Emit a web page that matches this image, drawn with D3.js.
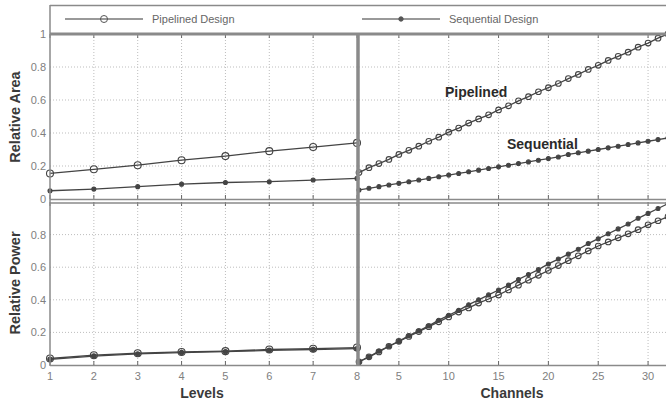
<!DOCTYPE html>
<html>
<head>
<meta charset="utf-8">
<script src="https://cdn.jsdelivr.net/npm/d3@7"></script>
<style>
  body { margin: 0; background: #fff; }
  text { font-family: "Liberation Sans", Arial, sans-serif; }
</style>
</head>
<body>
<script>
var CH = {};     // chart scope

/* DATA */
CH.levels = [1, 2, 3, 4, 5, 6, 7, 8];
CH.channels = [1, 2, 3, 4, 5, 6, 7, 8, 9, 10, 11, 12, 13, 14, 15, 16,
    17, 18, 19, 20, 21, 22, 23, 24, 25, 26, 27, 28, 29, 30, 31, 32];

// relative area vs levels
CH.areaPipeLevels = [0.155, 0.18, 0.205, 0.235, 0.26, 0.29, 0.315, 0.34];
CH.areaSeqLevels  = [0.05, 0.06, 0.075, 0.09, 0.1, 0.105, 0.115, 0.125];

// relative area vs channels
CH.areaPipeChan = [0.16, 0.19, 0.215, 0.24, 0.27, 0.295, 0.32, 0.35, 0.375, 0.405,
    0.43, 0.46, 0.485, 0.51, 0.54, 0.565, 0.595, 0.62, 0.65, 0.675, 0.7, 0.73,
    0.755, 0.785, 0.81, 0.84, 0.865, 0.89, 0.92, 0.945, 0.975, 1.0];
CH.areaSeqChan = [0.055, 0.065, 0.075, 0.085, 0.095, 0.105, 0.115, 0.125, 0.135, 0.145,
    0.155, 0.165, 0.175, 0.185, 0.195, 0.205, 0.215, 0.225, 0.235, 0.245, 0.255,
    0.27, 0.28, 0.29, 0.3, 0.31, 0.32, 0.33, 0.34, 0.35, 0.36, 0.37];

// relative power vs levels
CH.powPipeLevels = [0.04, 0.06, 0.072, 0.08, 0.085, 0.095, 0.1, 0.107];
CH.powSeqLevels  = [0.035, 0.055, 0.068, 0.076, 0.082, 0.09, 0.095, 0.1];

// relative power vs channels
CH.powPipeChan = [0.02, 0.05, 0.08, 0.115, 0.145, 0.175, 0.205, 0.235, 0.265, 0.295,
    0.325, 0.35, 0.38, 0.405, 0.43, 0.46, 0.49, 0.52, 0.55, 0.58, 0.61, 0.64,
    0.67, 0.7, 0.73, 0.755, 0.78, 0.805, 0.83, 0.86, 0.885, 0.91];
CH.powSeqChan = [0.02, 0.05, 0.085, 0.115, 0.145, 0.18, 0.21, 0.24, 0.275, 0.305,
    0.335, 0.37, 0.4, 0.43, 0.46, 0.49, 0.525, 0.555, 0.585, 0.62, 0.65, 0.68,
    0.71, 0.745, 0.775, 0.805, 0.835, 0.865, 0.9, 0.93, 0.96, 0.99];

CH.yTicks = [0, 0.2, 0.4, 0.6, 0.8, 1];
CH.yTickLabels = ["0", "0.2", "0.4", "0.6", "0.8", "1"];
CH.chanTicks = [5, 10, 15, 20, 25, 30];

CH.legend = ["Pipelined Design", "Sequential Design"];

/* SETUP */
CH.svg = d3.select("body").append("svg")
    .attr("width", 666)
    .attr("height", 407);

CH.lineClr = "#444";
CH.frameClr = "#8a8a8a";
CH.gridClr = "#bdbdbd";
CH.tickClr = "#808080";

// scales
CH.xL = d3.scaleLinear().domain([1, 8]).range([50, 357]);
CH.xR = d3.scaleLinear().domain([1, 32]).range([359, 668]);
CH.yT = d3.scaleLinear().domain([0, 1]).range([199, 34]);
CH.yB = d3.scaleLinear().domain([0, 1]).range([365, 202]);

/* grid lines (dotted) */
CH.grid = function(x, xticks, y, yticks) {
    var g = CH.svg.append("g")
        .attr("stroke", CH.gridClr)
        .attr("stroke-dasharray", "1,2")
        .attr("stroke-width", 1);
    g.selectAll(".gx").data(xticks).enter().append("line")
        .attr("x1", function(d) { return x(d); })
        .attr("x2", function(d) { return x(d); })
        .attr("y1", y.range()[1])
        .attr("y2", y.range()[0]);
    g.selectAll(".gy").data(yticks).enter().append("line")
        .attr("x1", x.range()[0])
        .attr("x2", Math.min(x.range()[1], 666))
        .attr("y1", function(d) { return y(d); })
        .attr("y2", function(d) { return y(d); });
};

CH.grid(CH.xL, CH.levels.slice(1, 7), CH.yT, [0.2, 0.4, 0.6, 0.8]);
CH.grid(CH.xR, CH.chanTicks, CH.yT, [0.2, 0.4, 0.6, 0.8]);
CH.grid(CH.xL, CH.levels.slice(1, 7), CH.yB, [0.2, 0.4, 0.6, 0.8]);
CH.grid(CH.xR, CH.chanTicks, CH.yB, [0.2, 0.4, 0.6, 0.8]);

/* small tick marks along top and bottom of each panel */
CH.ticks = function(x, xticks, y) {
    var g = CH.svg.append("g")
        .attr("stroke", "#666")
        .attr("stroke-width", 1);
    g.selectAll("line.b").data(xticks).enter().append("line")
        .attr("x1", function(d) { return x(d); })
        .attr("x2", function(d) { return x(d); })
        .attr("y1", y(0))
        .attr("y2", y(0) - 4);
    g.selectAll("line.t").data(xticks).enter().append("line")
        .attr("x1", function(d) { return x(d); })
        .attr("x2", function(d) { return x(d); })
        .attr("y1", y(1))
        .attr("y2", y(1) + 4);
};
CH.ticks(CH.xL, CH.levels, CH.yT);
CH.ticks(CH.xR, CH.chanTicks, CH.yT);
CH.ticks(CH.xL, CH.levels, CH.yB);
CH.ticks(CH.xR, CH.chanTicks, CH.yB);

/* series: line + markers */
CH.series = function(x, xs, y, ys, mark, r) {
    var pts = xs.map(function(d, i) { return [d, ys[i]]; });
    var line = d3.line()
        .x(function(d) { return x(d[0]); })
        .y(function(d) { return y(d[1]); });
    CH.svg.append("path")
        .datum(pts)
        .attr("d", line)
        .attr("fill", "none")
        .attr("stroke", CH.lineClr)
        .attr("stroke-width", 1.3);
    CH.svg.append("g").selectAll("circle")
        .data(pts)
        .enter()
        .append("circle")
        .attr("cx", function(d) { return x(d[0]); })
        .attr("cy", function(d) { return y(d[1]); })
        .attr("r", r)
        .attr("fill", mark == "o" ? "none" : CH.lineClr)
        .attr("stroke", CH.lineClr)
        .attr("stroke-width", 1.1);
};

CH.series(CH.xL, CH.levels, CH.yT, CH.areaPipeLevels, "o", 3.5);
CH.series(CH.xL, CH.levels, CH.yT, CH.areaSeqLevels, "*", 2);
CH.series(CH.xR, CH.channels, CH.yT, CH.areaPipeChan, "o", 2.8);
CH.series(CH.xR, CH.channels, CH.yT, CH.areaSeqChan, "*", 2);
CH.series(CH.xL, CH.levels, CH.yB, CH.powPipeLevels, "o", 3.5);
CH.series(CH.xL, CH.levels, CH.yB, CH.powSeqLevels, "*", 2.2);
CH.series(CH.xR, CH.channels, CH.yB, CH.powPipeChan, "o", 2.8);
CH.series(CH.xR, CH.channels, CH.yB, CH.powSeqChan, "*", 2);

/* frame */
CH.frame = CH.svg.append("g").attr("stroke", CH.frameClr).attr("fill", "none");
CH.frame.append("line").attr("x1", 50).attr("x2", 666).attr("y1", 5.5).attr("y2", 5.5)
    .attr("stroke-width", 1.5);
CH.frame.append("line").attr("x1", 50).attr("x2", 666).attr("y1", 34).attr("y2", 34)
    .attr("stroke-width", 3);
CH.frame.append("line").attr("x1", 50).attr("x2", 666).attr("y1", CH.yT(0) + 0.5).attr("y2", CH.yT(0) + 0.5)
    .attr("stroke-width", 1.5);
CH.frame.append("line").attr("x1", 50).attr("x2", 666).attr("y1", CH.yB(1) + 1).attr("y2", CH.yB(1) + 1)
    .attr("stroke-width", 1.5);
CH.frame.append("line").attr("x1", 50).attr("x2", 666).attr("y1", CH.yB(0) + 0.5).attr("y2", CH.yB(0) + 0.5)
    .attr("stroke-width", 1.5);
CH.frame.append("line").attr("x1", 50).attr("x2", 50).attr("y1", 5).attr("y2", 366)
    .attr("stroke-width", 1.5);
CH.frame.append("line").attr("x1", 358).attr("x2", 358).attr("y1", 34).attr("y2", 366)
    .attr("stroke-width", 3.5);

/* y tick labels */
CH.yLabels = function(y, idx) {
    CH.svg.append("g").selectAll("text")
        .data(idx)
        .enter()
        .append("text")
        .attr("x", 46)
        .attr("y", function(i) { return y(CH.yTicks[i]) + 4; })
        .attr("text-anchor", "end")
        .attr("font-size", "11px")
        .attr("fill", CH.tickClr)
        .text(function(i) { return CH.yTickLabels[i]; });
};
CH.yLabels(CH.yT, [0, 1, 2, 3, 4, 5]);
CH.yLabels(CH.yB, [0, 1, 2, 3, 4]);

/* x tick labels */
CH.svg.append("g").selectAll("text")
    .data(CH.levels)
    .enter()
    .append("text")
    .attr("x", function(d) { return CH.xL(d); })
    .attr("y", 380)
    .attr("text-anchor", "middle")
    .attr("font-size", "11px")
    .attr("fill", CH.tickClr)
    .text(function(d) { return d; });
CH.svg.append("g").selectAll("text")
    .data(CH.chanTicks)
    .enter()
    .append("text")
    .attr("x", function(d) { return CH.xR(d); })
    .attr("y", 380)
    .attr("text-anchor", "middle")
    .attr("font-size", "11px")
    .attr("fill", CH.tickClr)
    .text(function(d) { return d; });

/* axis titles */
CH.title = function(txt, tr, size) {
    CH.svg.append("text")
        .attr("transform", tr)
        .attr("text-anchor", "middle")
        .attr("font-size", size)
        .attr("font-weight", "bold")
        .attr("fill", "#3a3a3a")
        .text(txt);
};
CH.title("Levels", "translate(202,398)", "14px");
CH.title("Channels", "translate(512,398)", "14px");
CH.title("Relative Area", "translate(20,117) rotate(-90)", "14.5px");
CH.title("Relative Power", "translate(20,283) rotate(-90)", "14.5px");

/* in-plot annotations */
CH.svg.append("text").attr("x", 445).attr("y", 97)
    .attr("font-size", "14px").attr("font-weight", "bold").attr("fill", "#2a2a2a")
    .text("Pipelined");
CH.svg.append("text").attr("x", 507).attr("y", 149)
    .attr("font-size", "14px").attr("font-weight", "bold").attr("fill", "#2a2a2a")
    .text("Sequential");

/* legend */
CH.legendX = [65, 362];
CH.legendGrp = CH.svg.append("g").selectAll("g")
    .data(CH.legend)
    .enter()
    .append("g")
    .attr("transform", function(d, i) { return "translate(" + CH.legendX[i] + ",19)"; });
CH.legendGrp.append("line")
    .attr("x1", 0).attr("x2", 78)
    .attr("stroke", "#777").attr("stroke-width", 1.3);
CH.legendGrp.append("circle")
    .attr("cx", 39).attr("r", function(d, i) { return i == 0 ? 3.5 : 2.2; })
    .attr("fill", function(d, i) { return i == 0 ? "none" : "#555"; })
    .attr("stroke", "#555");
CH.legendGrp.append("text")
    .attr("x", 87).attr("y", 4)
    .attr("font-size", "11px")
    .attr("fill", "#666")
    .text(function(d) { return d; });
</script>
</body>
</html>
